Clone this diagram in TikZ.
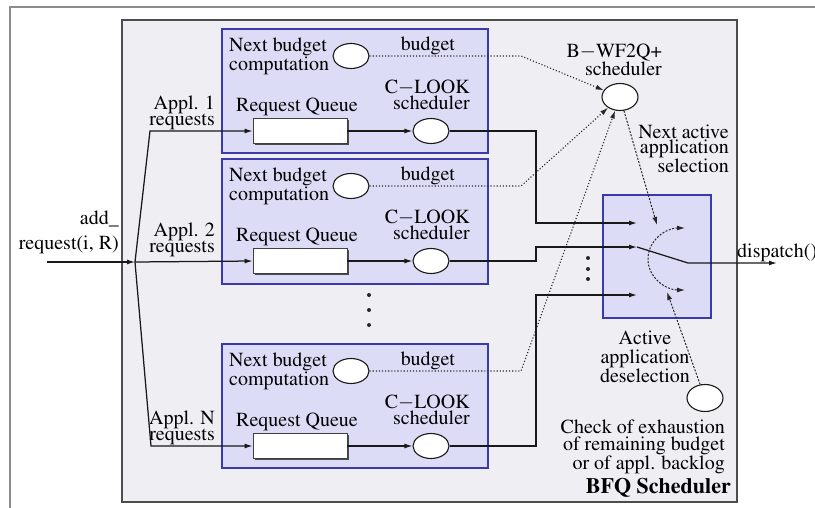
\documentclass[tikz,border=0pt]{standalone}
\usepackage[T1]{fontenc}
\usepackage{times}
\usepackage{tikz}
\usetikzlibrary{arrows}
\usetikzlibrary{arrows.meta}
\usetikzlibrary{shapes}
\usetikzlibrary{shapes.geometric}
\usetikzlibrary{shadows}
\tikzset{>={Latex[length=8pt,width=5pt]}}
\definecolor{bfqgray}{RGB}{238,238,243}
\definecolor{appllav}{RGB}{220,220,246}
\definecolor{applblue}{RGB}{58,58,170}
\tikzstyle{txt} = [draw=none, inner sep=0, font=\fontsize{20}{15}\selectfont]
\tikzstyle{proc} = [ellipse, draw=black!90, fill=white, line width=1.1pt, minimum width=36, minimum height=25, inner sep=0]
\tikzstyle{queue} = [rectangle, draw=black!75, fill=white, line width=0.8pt, minimum width=94, minimum height=25, drop shadow={shadow xshift=1.5pt, shadow yshift=-1.5pt, fill=black!70, opacity=1}]
\tikzstyle{appl} = [draw=applblue, fill=appllav, line width=1.4pt]
\tikzstyle{flow} = [->, draw=black!90, line width=1.25pt]
\tikzstyle{budgetline} = [->, dotted, draw=black!85, line width=1.1pt]
\tikzstyle{ctrl} = [->, dash pattern=on 2pt off 1.5pt, draw=black!85, line width=1pt]

\begin{document}
\begin{tikzpicture}[x=1pt, y=-1pt]
\useasboundingbox (0,0) rectangle (815,508);
\draw [black!45, line width=1.2pt] (10,508) -- (10,7) -- (815,7);
\draw [draw=black!70, fill=bfqgray, line width=1.5pt] (122,20) rectangle (737,502);
\draw [appl] (222,29) rectangle (488,153);
\draw [appl] (222,159) rectangle (488,284);
\draw [appl] (222,344) rectangle (488,468);
\draw [appl] (603,195) rectangle (711,318);

% appl. 1
\node [txt, align=left, anchor=west] (N1) at (229,56) {Next budget\\computation};
\node [proc] (B1) at (351,56) {};
\node [txt] (L1) at (428,46) {budget};
\node [txt, align=right, anchor=east] (K1) at (470,95) {C$-$LOOK\\scheduler};
\node [txt] (R1) at (297,107) {Request Queue};
\node [queue] (Q1) at (300,131) {};
\node [proc] (C1) at (431,131) {};
\node [txt, align=right, anchor=east] (A1) at (215,113) {Appl. 1\\requests};

% appl. 2
\node [txt, align=left, anchor=west] (N2) at (229,186) {Next budget\\computation};
\node [proc] (B2) at (351,186) {};
\node [txt] (L2) at (428,176) {budget};
\node [txt, align=right, anchor=east] (K2) at (470,225) {C$-$LOOK\\scheduler};
\node [txt] (R2) at (297,237) {Request Queue};
\node [queue] (Q2) at (300,261) {};
\node [proc] (C2) at (431,261) {};
\node [txt, align=right, anchor=east] (A2) at (215,240) {Appl. 2\\requests};

% appl. N
\node [txt, align=left, anchor=west] (N3) at (229,371) {Next budget\\computation};
\node [proc] (B3) at (351,371) {};
\node [txt] (L3) at (428,361) {budget};
\node [txt, align=right, anchor=east] (K3) at (470,410) {C$-$LOOK\\scheduler};
\node [txt] (R3) at (297,422) {Request Queue};
\node [queue] (Q3) at (300,446) {};
\node [proc] (C3) at (431,446) {};
\node [txt, align=right, anchor=east] (A3) at (215,428) {Appl. N\\requests};

\fill [black!85] (369,295) circle [radius=2pt] (369,310) circle [radius=2pt] (369,325) circle [radius=2pt];
\fill [black!85] (588,258) circle [radius=2pt] (588,269) circle [radius=2pt] (588,279) circle [radius=2pt];

% input side
\node [txt, align=right, anchor=east] (I) at (119,232) {add\_\\[8pt]request(i, R)};
\coordinate (IN) at (47,262);
\coordinate (F) at (135,262);
\coordinate (F1) at (150,131);
\coordinate (F3) at (151,446);
\draw [flow] (IN) -- (F);
\draw [flow] (F) -- (F1) -- (Q1.west);
\draw [flow] (F) -- (Q2.west);
\draw [flow] (F) -- (F3) -- (Q3.west);
\draw [flow] (Q1) -- (C1);
\draw [flow] (Q2) -- (C2);
\draw [flow] (Q3) -- (C3);

% switch
\coordinate (S1) at (637,223);
\coordinate (S2) at (637,247);
\coordinate (S3) at (637,295);
\coordinate (D) at (777,263);
\draw [flow] (C1.east) -| (536,223) -- (S1);
\draw [flow] (C2.east) -| (536,247) -- (S2);
\draw [flow] (C3.east) -| (536,295) -- (S3);
\draw [flow] (S2) -- (688,263) -- (D);
\node [txt, anchor=base west] (DL) at (737,258) {dispatch()};

% B-WF2Q+
\node [proc, minimum height=27] (W) at (620,97) {};
\node [txt, align=right, anchor=east] (WL) at (662,60) {B$-$WF2Q+\\scheduler};
\draw [budgetline] (B1.east) -- (521,56) -- (W);
\draw [budgetline] (B2.east) -- (521,186) -- (W);
\draw [budgetline] (B3.east) -- (521,371) -- (W);
\node [txt, align=right, anchor=east] (NA) at (729,149) {Next active\\application\\selection};

% deselection
\node [proc, minimum height=27] (X) at (705,398) {};
\node [txt, align=center, font=\fontsize{20}{19}\selectfont] (AD) at (645,357) {Active\\application\\deselection};
\node [txt, align=right, anchor=east, font=\fontsize{20}{16.5}\selectfont] (CE) at (725,447) {Check of exhaustion\\of remaining budget\\or of appl. backlog};
\node [txt, anchor=east, font=\fontsize{22}{22}\selectfont\bfseries] (BFQ) at (731,488) {BFQ Scheduler};

\coordinate (T1) at (657,225);
\coordinate (T2) at (667,292);
\coordinate (E1) at (685,228);
\coordinate (E2) at (685,290);
\draw [ctrl] (W) -- (T1);
\draw [ctrl] (X) -- (T2);
\draw [ctrl, <->] (E1) to[out=180, in=90] (648,259) to[out=-90, in=180] (E2);
\end{tikzpicture}
\end{document}
